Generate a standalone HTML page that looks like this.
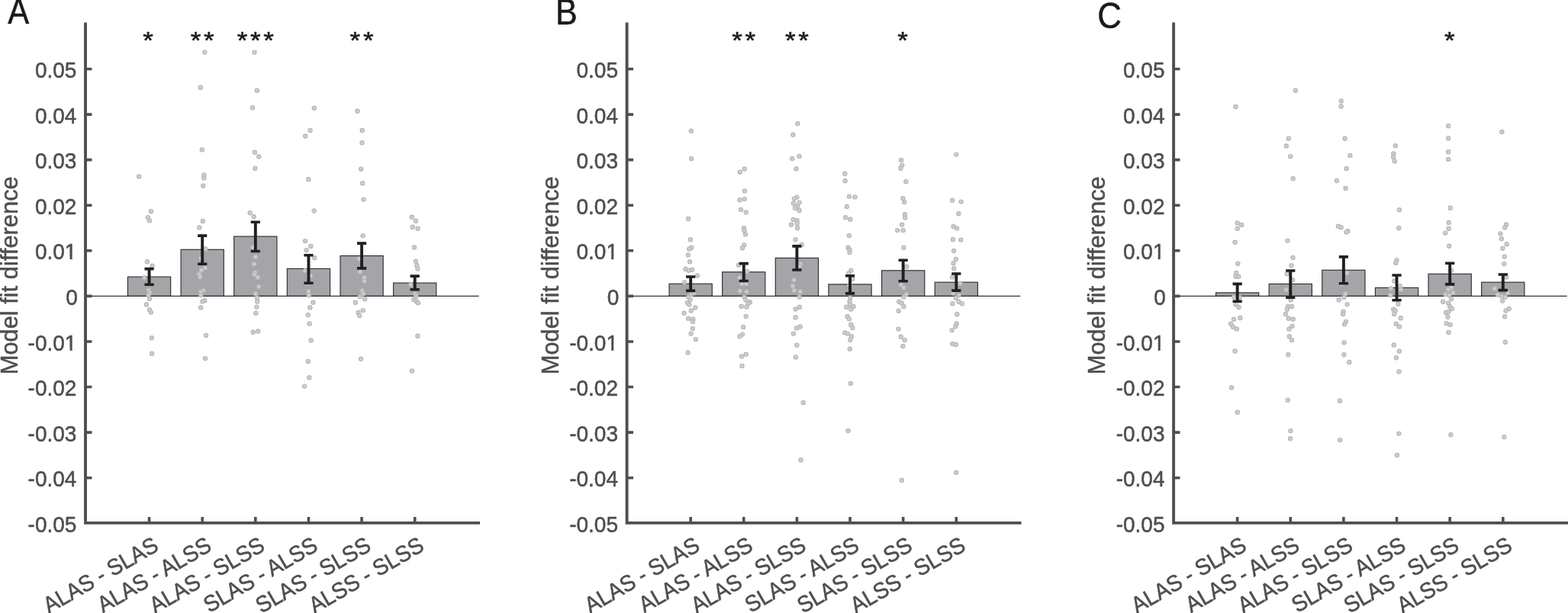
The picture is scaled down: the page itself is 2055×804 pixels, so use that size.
<!DOCTYPE html>
<html lang="en">
<head>
<meta charset="utf-8">
<title>Model fit difference</title><style>
html,body{margin:0;padding:0;background:#fff;}
body{width:2055px;height:804px;overflow:hidden;}
svg{display:block;}
text{font-family:"Liberation Sans","DejaVu Sans",sans-serif;}
.tk{font-size:28px;fill:#4e4e4e;stroke:#4e4e4e;stroke-width:0.5px;}
.yl{font-size:30.85px;fill:#4e4e4e;stroke:#4e4e4e;stroke-width:0.5px;}
.pl{font-size:45px;fill:#1a1a1a;stroke:#1a1a1a;stroke-width:0.5px;}
.st{font-size:35px;fill:#1a1a1a;stroke:#1a1a1a;stroke-width:0.6px;}
.ax{stroke:#4f4f4f;stroke-width:3.9;fill:none;}
.ti{stroke:#4f4f4f;stroke-width:3.6;fill:none;}
.bl{stroke:#333333;stroke-width:1.1;}
.bar{fill:#a5a5a9;stroke:#2e2e30;stroke-width:1.15;}
.eb{stroke:#231f20;stroke-width:3.9;fill:none;}
.ec{stroke:#231f20;stroke-width:3.6;fill:none;}
.d{fill:#cecece;stroke:#b8b8b8;stroke-width:1.2;}
</style>
</head>
<body>
<svg width="2055" height="804" viewBox="0 0 2055 804">
<rect x="0" y="0" width="2055" height="804" fill="#ffffff"/>
<defs><clipPath id="nofoot" clipPathUnits="userSpaceOnUse"><rect x="-200" y="-40" width="400" height="36.6"/><rect x="-200" y="-3.6" width="185.2" height="20"/><rect x="-8.85" y="-3.6" width="3.1" height="3.9"/></clipPath></defs>
<g id="panel-A">
<text class="pl" transform="translate(10.20,31.20) scale(0.930,1.08)">A</text>
<text class="yl" text-anchor="middle" transform="translate(22.9,361.3) rotate(-90)">Model fit difference</text>
<rect class="bar" x="167.45" y="363.10" width="56.20" height="25.30"/>
<rect class="bar" x="237.08" y="327.30" width="56.20" height="61.10"/>
<rect class="bar" x="306.71" y="310.10" width="56.20" height="78.30"/>
<rect class="bar" x="376.34" y="352.40" width="56.20" height="36.00"/>
<rect class="bar" x="445.97" y="335.50" width="56.20" height="52.90"/>
<rect class="bar" x="515.60" y="371.10" width="56.20" height="17.30"/>
<line class="bl" x1="112.0" y1="388.40" x2="627.6" y2="388.40"/>
<g class="d">
<circle cx="268.3" cy="68.6" r="2.6"/><circle cx="333.4" cy="68.6" r="2.6"/><circle cx="262.8" cy="114.8" r="2.6"/><circle cx="336.9" cy="118.8" r="2.6"/><circle cx="331.0" cy="141.2" r="2.6"/><circle cx="411.8" cy="141.7" r="2.6"/><circle cx="468.5" cy="145.7" r="2.6"/><circle cx="406.6" cy="171.0" r="2.6"/><circle cx="400.1" cy="178.5" r="2.6"/><circle cx="474.7" cy="171.0" r="2.6"/><circle cx="474.5" cy="187.2" r="2.6"/><circle cx="264.8" cy="196.4" r="2.6"/><circle cx="333.9" cy="199.7" r="2.6"/><circle cx="339.2" cy="205.4" r="2.6"/><circle cx="334.4" cy="220.8" r="2.6"/><circle cx="473.2" cy="221.8" r="2.6"/><circle cx="182.2" cy="231.5" r="2.6"/><circle cx="267.3" cy="229.5" r="2.6"/><circle cx="267.3" cy="233.5" r="2.6"/><circle cx="197.9" cy="277.3" r="2.6"/><circle cx="193.9" cy="285.2" r="2.6"/><circle cx="195.9" cy="289.2" r="2.6"/><circle cx="192.9" cy="343.2" r="2.6"/><circle cx="199.6" cy="348.7" r="2.6"/><circle cx="189.2" cy="364.3" r="2.6"/><circle cx="194.6" cy="380.5" r="2.6"/><circle cx="196.6" cy="383.7" r="2.6"/><circle cx="194.6" cy="387.2" r="2.6"/><circle cx="195.9" cy="391.7" r="2.6"/><circle cx="191.9" cy="399.4" r="2.6"/><circle cx="195.9" cy="406.1" r="2.6"/><circle cx="197.9" cy="409.6" r="2.6"/><circle cx="266.3" cy="243.7" r="2.6"/><circle cx="265.8" cy="290.0" r="2.6"/><circle cx="261.3" cy="298.4" r="2.6"/><circle cx="269.3" cy="326.5" r="2.6"/><circle cx="263.5" cy="338.7" r="2.6"/><circle cx="268.8" cy="351.4" r="2.6"/><circle cx="263.8" cy="354.4" r="2.6"/><circle cx="260.8" cy="359.6" r="2.6"/><circle cx="262.3" cy="363.1" r="2.6"/><circle cx="266.8" cy="381.2" r="2.6"/><circle cx="263.3" cy="382.7" r="2.6"/><circle cx="263.3" cy="387.2" r="2.6"/><circle cx="268.3" cy="394.2" r="2.6"/><circle cx="265.3" cy="395.4" r="2.6"/><circle cx="263.3" cy="403.4" r="2.6"/><circle cx="327.7" cy="279.3" r="2.6"/><circle cx="332.7" cy="284.2" r="2.6"/><circle cx="331.5" cy="324.5" r="2.6"/><circle cx="334.9" cy="337.0" r="2.6"/><circle cx="332.9" cy="346.2" r="2.6"/><circle cx="334.4" cy="357.4" r="2.6"/><circle cx="333.4" cy="359.9" r="2.6"/><circle cx="337.7" cy="363.8" r="2.6"/><circle cx="339.2" cy="376.0" r="2.6"/><circle cx="334.9" cy="385.2" r="2.6"/><circle cx="336.9" cy="390.4" r="2.6"/><circle cx="337.2" cy="395.4" r="2.6"/><circle cx="336.4" cy="402.6" r="2.6"/><circle cx="335.4" cy="410.8" r="2.6"/><circle cx="404.3" cy="235.2" r="2.6"/><circle cx="411.6" cy="276.5" r="2.6"/><circle cx="400.1" cy="316.1" r="2.6"/><circle cx="407.3" cy="323.0" r="2.6"/><circle cx="401.6" cy="328.3" r="2.6"/><circle cx="412.3" cy="338.2" r="2.6"/><circle cx="399.9" cy="355.1" r="2.6"/><circle cx="406.8" cy="361.8" r="2.6"/><circle cx="404.3" cy="382.2" r="2.6"/><circle cx="404.8" cy="387.2" r="2.6"/><circle cx="410.3" cy="396.7" r="2.6"/><circle cx="406.3" cy="403.4" r="2.6"/><circle cx="403.8" cy="413.1" r="2.6"/><circle cx="405.6" cy="424.5" r="2.6"/><circle cx="475.2" cy="240.4" r="2.6"/><circle cx="476.5" cy="261.6" r="2.6"/><circle cx="475.5" cy="309.1" r="2.6"/><circle cx="470.8" cy="339.5" r="2.6"/><circle cx="472.0" cy="356.4" r="2.6"/><circle cx="477.5" cy="364.3" r="2.6"/><circle cx="477.5" cy="368.8" r="2.6"/><circle cx="474.7" cy="381.2" r="2.6"/><circle cx="476.2" cy="385.5" r="2.6"/><circle cx="471.7" cy="389.2" r="2.6"/><circle cx="478.2" cy="392.2" r="2.6"/><circle cx="465.8" cy="396.7" r="2.6"/><circle cx="475.7" cy="407.1" r="2.6"/><circle cx="469.5" cy="409.9" r="2.6"/><circle cx="471.3" cy="414.1" r="2.6"/><circle cx="539.7" cy="284.7" r="2.6"/><circle cx="544.9" cy="289.7" r="2.6"/><circle cx="540.7" cy="297.7" r="2.6"/><circle cx="547.6" cy="299.7" r="2.6"/><circle cx="542.9" cy="324.5" r="2.6"/><circle cx="544.9" cy="342.7" r="2.6"/><circle cx="546.4" cy="348.2" r="2.6"/><circle cx="547.4" cy="352.6" r="2.6"/><circle cx="538.4" cy="373.5" r="2.6"/><circle cx="544.2" cy="385.5" r="2.6"/><circle cx="545.4" cy="388.7" r="2.6"/><circle cx="542.4" cy="392.9" r="2.6"/><circle cx="545.9" cy="395.4" r="2.6"/><circle cx="547.9" cy="397.2" r="2.6"/><circle cx="198.9" cy="443.2" r="2.6"/><circle cx="199.1" cy="463.8" r="2.6"/><circle cx="270.0" cy="440.0" r="2.6"/><circle cx="269.0" cy="470.1" r="2.6"/><circle cx="331.7" cy="435.7" r="2.6"/><circle cx="338.2" cy="434.5" r="2.6"/><circle cx="407.6" cy="446.4" r="2.6"/><circle cx="403.8" cy="474.0" r="2.6"/><circle cx="405.3" cy="495.2" r="2.6"/><circle cx="399.1" cy="506.6" r="2.6"/><circle cx="473.0" cy="470.8" r="2.6"/><circle cx="547.4" cy="440.7" r="2.6"/><circle cx="539.9" cy="486.5" r="2.6"/>
</g>
<path class="eb" d="M195.55 352.60V373.30"/><path class="ec" d="M189.45 352.60h12.2M189.45 373.30h12.2"/>
<path class="eb" d="M265.18 309.10V346.20"/><path class="ec" d="M259.08 309.10h12.2M259.08 346.20h12.2"/>
<path class="eb" d="M334.81 291.20V329.50"/><path class="ec" d="M328.71 291.20h12.2M328.71 329.50h12.2"/>
<path class="eb" d="M404.44 334.70V371.30"/><path class="ec" d="M398.34 334.70h12.2M398.34 371.30h12.2"/>
<path class="eb" d="M474.07 319.10V351.90"/><path class="ec" d="M467.97 319.10h12.2M467.97 351.90h12.2"/>
<path class="eb" d="M543.70 362.10V379.80"/><path class="ec" d="M537.60 362.10h12.2M537.60 379.80h12.2"/>
<path class="ax" d="M112.00 29.40V685.90H629.00"/>
<path class="ti" d="M112.00 90.50h8.4M112.00 150.08h8.4M112.00 209.66h8.4M112.00 269.24h8.4M112.00 328.82h8.4M112.00 388.40h8.4M112.00 447.98h8.4M112.00 507.56h8.4M112.00 567.14h8.4M112.00 626.72h8.4M195.55 685.90v-8.0M265.18 685.90v-8.0M334.81 685.90v-8.0M404.44 685.90v-8.0M474.07 685.90v-8.0M543.70 685.90v-8.0"/>
<text class="tk" text-anchor="end" transform="translate(100.4,102.0) scale(1,1.07)">0.05</text>
<text class="tk" text-anchor="end" transform="translate(100.4,161.6) scale(1,1.07)">0.04</text>
<text class="tk" text-anchor="end" transform="translate(100.4,221.2) scale(1,1.07)">0.03</text>
<text class="tk" text-anchor="end" transform="translate(100.4,280.7) scale(1,1.07)">0.02</text>
<text class="tk" text-anchor="end" clip-path="url(#nofoot)" transform="translate(100.4,340.3) scale(1,1.07)">0.01</text>
<text class="tk" text-anchor="end" transform="translate(101.8,399.9) scale(1,1.07)">0</text>
<text class="tk" text-anchor="end" clip-path="url(#nofoot)" transform="translate(100.4,459.5) scale(1,1.07)">-0.01</text>
<text class="tk" text-anchor="end" transform="translate(100.4,519.1) scale(1,1.07)">-0.02</text>
<text class="tk" text-anchor="end" transform="translate(100.4,578.6) scale(1,1.07)">-0.03</text>
<text class="tk" text-anchor="end" transform="translate(100.4,638.2) scale(1,1.07)">-0.04</text>
<text class="tk" text-anchor="end" transform="translate(100.4,697.8) scale(1,1.07)">-0.05</text>
<text class="tk" text-anchor="end" transform="translate(209.6,721.0) rotate(-30) scale(1,1.07)">ALAS - SLAS</text>
<text class="tk" text-anchor="end" transform="translate(279.2,721.0) rotate(-30) scale(1,1.07)">ALAS - ALSS</text>
<text class="tk" text-anchor="end" transform="translate(348.8,721.0) rotate(-30) scale(1,1.07)">ALAS - SLSS</text>
<text class="tk" text-anchor="end" transform="translate(418.4,721.0) rotate(-30) scale(1,1.07)">SLAS - ALSS</text>
<text class="tk" text-anchor="end" transform="translate(488.1,721.0) rotate(-30) scale(1,1.07)">SLAS - SLSS</text>
<text class="tk" text-anchor="end" transform="translate(557.7,721.0) rotate(-30) scale(1,1.07)">ALSS - SLSS</text>
<text class="st" text-anchor="middle" transform="translate(0,64.20) scale(1,0.88)" x="194.05" y="0">*</text>
<text class="st" text-anchor="middle" transform="translate(0,64.20) scale(1,0.88)" x="256.53 273.83" y="0">**</text>
<text class="st" text-anchor="middle" transform="translate(0,64.20) scale(1,0.88)" x="317.51 334.81 352.11" y="0">***</text>
<text class="st" text-anchor="middle" transform="translate(0,64.20) scale(1,0.88)" x="465.42 482.72" y="0">**</text>
</g>
<g id="panel-B">
<text class="pl" transform="translate(727.90,31.70) scale(0.955,1.08)">B</text>
<text class="yl" text-anchor="middle" transform="translate(731.6,361.3) rotate(-90)">Model fit difference</text>
<rect class="bar" x="877.05" y="372.20" width="56.20" height="16.20"/>
<rect class="bar" x="946.68" y="356.80" width="56.20" height="31.60"/>
<rect class="bar" x="1016.31" y="338.40" width="56.20" height="50.00"/>
<rect class="bar" x="1085.94" y="372.90" width="56.20" height="15.50"/>
<rect class="bar" x="1155.57" y="354.80" width="56.20" height="33.60"/>
<rect class="bar" x="1225.20" y="370.20" width="56.20" height="18.20"/>
<line class="bl" x1="821.6" y1="388.40" x2="1337.2" y2="388.40"/>
<g class="d">
<circle cx="905.8" cy="171.8" r="2.6"/><circle cx="906.1" cy="208.1" r="2.6"/><circle cx="902.1" cy="287.0" r="2.6"/><circle cx="904.8" cy="314.3" r="2.6"/><circle cx="906.3" cy="324.8" r="2.6"/><circle cx="903.3" cy="326.5" r="2.6"/><circle cx="975.7" cy="221.5" r="2.6"/><circle cx="969.8" cy="225.8" r="2.6"/><circle cx="976.0" cy="250.4" r="2.6"/><circle cx="975.7" cy="261.1" r="2.6"/><circle cx="969.5" cy="262.3" r="2.6"/><circle cx="971.0" cy="275.0" r="2.6"/><circle cx="977.7" cy="278.5" r="2.6"/><circle cx="975.0" cy="299.2" r="2.6"/><circle cx="975.5" cy="302.4" r="2.6"/><circle cx="977.0" cy="307.4" r="2.6"/><circle cx="975.2" cy="321.5" r="2.6"/><circle cx="973.0" cy="325.3" r="2.6"/><circle cx="1045.4" cy="162.1" r="2.6"/><circle cx="1039.4" cy="176.8" r="2.6"/><circle cx="1047.4" cy="204.9" r="2.6"/><circle cx="1038.2" cy="207.9" r="2.6"/><circle cx="1043.6" cy="221.5" r="2.6"/><circle cx="1044.4" cy="258.6" r="2.6"/><circle cx="1040.9" cy="260.6" r="2.6"/><circle cx="1047.6" cy="265.6" r="2.6"/><circle cx="1039.9" cy="266.8" r="2.6"/><circle cx="1045.1" cy="270.5" r="2.6"/><circle cx="1042.1" cy="273.0" r="2.6"/><circle cx="1047.6" cy="276.0" r="2.6"/><circle cx="1039.7" cy="288.0" r="2.6"/><circle cx="1044.6" cy="289.2" r="2.6"/><circle cx="1044.6" cy="293.4" r="2.6"/><circle cx="1036.9" cy="294.7" r="2.6"/><circle cx="1045.1" cy="299.2" r="2.6"/><circle cx="1042.6" cy="314.1" r="2.6"/><circle cx="1050.6" cy="321.0" r="2.6"/><circle cx="1107.3" cy="227.8" r="2.6"/><circle cx="1107.6" cy="237.2" r="2.6"/><circle cx="1113.0" cy="257.6" r="2.6"/><circle cx="1120.5" cy="258.4" r="2.6"/><circle cx="1109.8" cy="271.0" r="2.6"/><circle cx="1108.1" cy="285.2" r="2.6"/><circle cx="1114.3" cy="287.7" r="2.6"/><circle cx="1112.8" cy="309.1" r="2.6"/><circle cx="1111.5" cy="324.8" r="2.6"/><circle cx="1113.5" cy="327.8" r="2.6"/><circle cx="1181.0" cy="209.9" r="2.6"/><circle cx="1182.2" cy="216.6" r="2.6"/><circle cx="1180.4" cy="220.8" r="2.6"/><circle cx="1187.4" cy="238.2" r="2.6"/><circle cx="1183.4" cy="260.1" r="2.6"/><circle cx="1185.2" cy="265.1" r="2.6"/><circle cx="1185.9" cy="281.2" r="2.6"/><circle cx="1186.2" cy="285.5" r="2.6"/><circle cx="1182.2" cy="294.7" r="2.6"/><circle cx="1176.2" cy="302.1" r="2.6"/><circle cx="1183.7" cy="302.1" r="2.6"/><circle cx="1184.4" cy="324.8" r="2.6"/><circle cx="1253.3" cy="202.6" r="2.6"/><circle cx="1248.1" cy="262.8" r="2.6"/><circle cx="1259.6" cy="264.6" r="2.6"/><circle cx="1256.3" cy="280.2" r="2.6"/><circle cx="1249.6" cy="296.9" r="2.6"/><circle cx="1254.1" cy="299.4" r="2.6"/><circle cx="1248.9" cy="314.3" r="2.6"/><circle cx="1259.3" cy="314.6" r="2.6"/><circle cx="1250.1" cy="329.0" r="2.6"/><circle cx="901.8" cy="334.4" r="2.6"/><circle cx="904.1" cy="343.3" r="2.6"/><circle cx="898.4" cy="352.8" r="2.6"/><circle cx="907.1" cy="353.8" r="2.6"/><circle cx="902.6" cy="354.8" r="2.6"/><circle cx="914.0" cy="361.5" r="2.6"/><circle cx="897.1" cy="370.4" r="2.6"/><circle cx="905.8" cy="385.9" r="2.6"/><circle cx="909.5" cy="384.6" r="2.6"/><circle cx="902.1" cy="389.6" r="2.6"/><circle cx="904.6" cy="393.3" r="2.6"/><circle cx="900.8" cy="397.1" r="2.6"/><circle cx="903.3" cy="399.6" r="2.6"/><circle cx="911.3" cy="403.5" r="2.6"/><circle cx="905.8" cy="407.5" r="2.6"/><circle cx="896.6" cy="410.7" r="2.6"/><circle cx="902.1" cy="417.7" r="2.6"/><circle cx="908.3" cy="418.7" r="2.6"/><circle cx="907.8" cy="421.9" r="2.6"/><circle cx="907.8" cy="430.9" r="2.6"/><circle cx="905.6" cy="437.6" r="2.6"/><circle cx="911.8" cy="445.1" r="2.6"/><circle cx="901.6" cy="462.5" r="2.6"/><circle cx="968.0" cy="347.8" r="2.6"/><circle cx="979.2" cy="356.0" r="2.6"/><circle cx="969.3" cy="364.2" r="2.6"/><circle cx="978.0" cy="372.2" r="2.6"/><circle cx="972.2" cy="372.2" r="2.6"/><circle cx="969.8" cy="381.6" r="2.6"/><circle cx="978.5" cy="382.6" r="2.6"/><circle cx="975.5" cy="389.6" r="2.6"/><circle cx="977.2" cy="393.3" r="2.6"/><circle cx="982.9" cy="396.3" r="2.6"/><circle cx="980.4" cy="398.3" r="2.6"/><circle cx="971.7" cy="401.8" r="2.6"/><circle cx="978.5" cy="402.5" r="2.6"/><circle cx="977.7" cy="415.0" r="2.6"/><circle cx="974.2" cy="428.9" r="2.6"/><circle cx="973.0" cy="438.6" r="2.6"/><circle cx="969.3" cy="441.3" r="2.6"/><circle cx="977.7" cy="464.7" r="2.6"/><circle cx="972.0" cy="467.5" r="2.6"/><circle cx="972.5" cy="479.9" r="2.6"/><circle cx="1048.9" cy="346.1" r="2.6"/><circle cx="1047.6" cy="349.3" r="2.6"/><circle cx="1040.6" cy="367.2" r="2.6"/><circle cx="1038.9" cy="375.2" r="2.6"/><circle cx="1040.9" cy="380.9" r="2.6"/><circle cx="1048.9" cy="382.6" r="2.6"/><circle cx="1047.6" cy="389.6" r="2.6"/><circle cx="1047.9" cy="402.8" r="2.6"/><circle cx="1042.6" cy="405.5" r="2.6"/><circle cx="1042.6" cy="416.2" r="2.6"/><circle cx="1048.6" cy="428.4" r="2.6"/><circle cx="1043.9" cy="430.4" r="2.6"/><circle cx="1039.9" cy="437.6" r="2.6"/><circle cx="1044.4" cy="452.8" r="2.6"/><circle cx="1042.9" cy="468.5" r="2.6"/><circle cx="1113.5" cy="331.1" r="2.6"/><circle cx="1115.3" cy="354.8" r="2.6"/><circle cx="1112.3" cy="358.5" r="2.6"/><circle cx="1117.3" cy="366.0" r="2.6"/><circle cx="1113.5" cy="373.4" r="2.6"/><circle cx="1114.3" cy="390.8" r="2.6"/><circle cx="1113.5" cy="395.8" r="2.6"/><circle cx="1114.3" cy="399.6" r="2.6"/><circle cx="1109.3" cy="402.8" r="2.6"/><circle cx="1118.5" cy="402.0" r="2.6"/><circle cx="1115.3" cy="405.5" r="2.6"/><circle cx="1110.5" cy="415.0" r="2.6"/><circle cx="1112.8" cy="418.2" r="2.6"/><circle cx="1115.3" cy="425.7" r="2.6"/><circle cx="1117.3" cy="429.9" r="2.6"/><circle cx="1107.3" cy="436.4" r="2.6"/><circle cx="1111.0" cy="437.6" r="2.6"/><circle cx="1116.0" cy="441.3" r="2.6"/><circle cx="1114.3" cy="445.8" r="2.6"/><circle cx="1113.8" cy="457.8" r="2.6"/><circle cx="1114.8" cy="502.9" r="2.6"/><circle cx="1188.2" cy="349.8" r="2.6"/><circle cx="1180.7" cy="373.4" r="2.6"/><circle cx="1184.4" cy="377.2" r="2.6"/><circle cx="1187.7" cy="385.9" r="2.6"/><circle cx="1184.4" cy="389.6" r="2.6"/><circle cx="1178.2" cy="395.8" r="2.6"/><circle cx="1181.9" cy="397.6" r="2.6"/><circle cx="1184.4" cy="402.0" r="2.6"/><circle cx="1177.7" cy="407.8" r="2.6"/><circle cx="1177.5" cy="431.6" r="2.6"/><circle cx="1180.7" cy="441.8" r="2.6"/><circle cx="1185.7" cy="446.1" r="2.6"/><circle cx="1183.4" cy="454.0" r="2.6"/><circle cx="1252.8" cy="339.9" r="2.6"/><circle cx="1249.6" cy="345.3" r="2.6"/><circle cx="1250.3" cy="352.3" r="2.6"/><circle cx="1247.9" cy="363.5" r="2.6"/><circle cx="1258.3" cy="371.7" r="2.6"/><circle cx="1249.1" cy="384.6" r="2.6"/><circle cx="1256.6" cy="387.1" r="2.6"/><circle cx="1252.8" cy="390.8" r="2.6"/><circle cx="1248.4" cy="398.3" r="2.6"/><circle cx="1256.6" cy="395.8" r="2.6"/><circle cx="1260.8" cy="398.3" r="2.6"/><circle cx="1254.3" cy="412.2" r="2.6"/><circle cx="1253.6" cy="424.4" r="2.6"/><circle cx="1252.3" cy="428.2" r="2.6"/><circle cx="1247.6" cy="433.1" r="2.6"/><circle cx="1248.4" cy="451.0" r="2.6"/><circle cx="1252.8" cy="452.0" r="2.6"/><circle cx="1052.8" cy="528.1" r="2.6"/><circle cx="1111.5" cy="564.9" r="2.6"/><circle cx="1049.6" cy="603.2" r="2.6"/><circle cx="1181.9" cy="630.0" r="2.6"/><circle cx="1253.3" cy="619.8" r="2.6"/>
</g>
<path class="eb" d="M905.15 363.00V381.40"/><path class="ec" d="M899.05 363.00h12.2M899.05 381.40h12.2"/>
<path class="eb" d="M974.78 345.60V368.50"/><path class="ec" d="M968.68 345.60h12.2M968.68 368.50h12.2"/>
<path class="eb" d="M1044.41 322.90V354.00"/><path class="ec" d="M1038.31 322.90h12.2M1038.31 354.00h12.2"/>
<path class="eb" d="M1114.04 361.70V384.90"/><path class="ec" d="M1107.94 361.70h12.2M1107.94 384.90h12.2"/>
<path class="eb" d="M1183.67 341.30V368.70"/><path class="ec" d="M1177.57 341.30h12.2M1177.57 368.70h12.2"/>
<path class="eb" d="M1253.30 359.00V381.10"/><path class="ec" d="M1247.20 359.00h12.2M1247.20 381.10h12.2"/>
<path class="ax" d="M821.60 29.40V685.90H1338.60"/>
<path class="ti" d="M821.60 90.50h8.4M821.60 150.08h8.4M821.60 209.66h8.4M821.60 269.24h8.4M821.60 328.82h8.4M821.60 388.40h8.4M821.60 447.98h8.4M821.60 507.56h8.4M821.60 567.14h8.4M821.60 626.72h8.4M905.15 685.90v-8.0M974.78 685.90v-8.0M1044.41 685.90v-8.0M1114.04 685.90v-8.0M1183.67 685.90v-8.0M1253.30 685.90v-8.0"/>
<text class="tk" text-anchor="end" transform="translate(810.0,102.0) scale(1,1.07)">0.05</text>
<text class="tk" text-anchor="end" transform="translate(810.0,161.6) scale(1,1.07)">0.04</text>
<text class="tk" text-anchor="end" transform="translate(810.0,221.2) scale(1,1.07)">0.03</text>
<text class="tk" text-anchor="end" transform="translate(810.0,280.7) scale(1,1.07)">0.02</text>
<text class="tk" text-anchor="end" clip-path="url(#nofoot)" transform="translate(810.0,340.3) scale(1,1.07)">0.01</text>
<text class="tk" text-anchor="end" transform="translate(811.4,399.9) scale(1,1.07)">0</text>
<text class="tk" text-anchor="end" clip-path="url(#nofoot)" transform="translate(810.0,459.5) scale(1,1.07)">-0.01</text>
<text class="tk" text-anchor="end" transform="translate(810.0,519.1) scale(1,1.07)">-0.02</text>
<text class="tk" text-anchor="end" transform="translate(810.0,578.6) scale(1,1.07)">-0.03</text>
<text class="tk" text-anchor="end" transform="translate(810.0,638.2) scale(1,1.07)">-0.04</text>
<text class="tk" text-anchor="end" transform="translate(810.0,697.8) scale(1,1.07)">-0.05</text>
<text class="tk" text-anchor="end" transform="translate(919.1,721.0) rotate(-30) scale(1,1.07)">ALAS - SLAS</text>
<text class="tk" text-anchor="end" transform="translate(988.8,721.0) rotate(-30) scale(1,1.07)">ALAS - ALSS</text>
<text class="tk" text-anchor="end" transform="translate(1058.4,721.0) rotate(-30) scale(1,1.07)">ALAS - SLSS</text>
<text class="tk" text-anchor="end" transform="translate(1128.0,721.0) rotate(-30) scale(1,1.07)">SLAS - ALSS</text>
<text class="tk" text-anchor="end" transform="translate(1197.7,721.0) rotate(-30) scale(1,1.07)">SLAS - SLSS</text>
<text class="tk" text-anchor="end" transform="translate(1267.3,721.0) rotate(-30) scale(1,1.07)">ALSS - SLSS</text>
<text class="st" text-anchor="middle" transform="translate(0,64.20) scale(1,0.88)" x="966.13 983.43" y="0">**</text>
<text class="st" text-anchor="middle" transform="translate(0,64.20) scale(1,0.88)" x="1035.76 1053.06" y="0">**</text>
<text class="st" text-anchor="middle" transform="translate(0,64.20) scale(1,0.88)" x="1182.97" y="0">*</text>
</g>
<g id="panel-C">
<text class="pl" transform="translate(1438.30,36.50) scale(0.975,1.08)">C</text>
<text class="yl" text-anchor="middle" transform="translate(1447.9,361.3) rotate(-90)">Model fit difference</text>
<rect class="bar" x="1593.55" y="383.90" width="56.20" height="4.50"/>
<rect class="bar" x="1663.18" y="372.40" width="56.20" height="16.00"/>
<rect class="bar" x="1732.81" y="354.30" width="56.20" height="34.10"/>
<rect class="bar" x="1802.44" y="377.40" width="56.20" height="11.00"/>
<rect class="bar" x="1872.07" y="359.30" width="56.20" height="29.10"/>
<rect class="bar" x="1941.70" y="370.20" width="56.20" height="18.20"/>
<line class="bl" x1="1538.1" y1="388.40" x2="2053.7" y2="388.40"/>
<g class="d">
<circle cx="1619.4" cy="140.0" r="2.6"/><circle cx="1621.6" cy="292.4" r="2.6"/><circle cx="1627.3" cy="294.9" r="2.6"/><circle cx="1621.8" cy="299.7" r="2.6"/><circle cx="1618.6" cy="317.8" r="2.6"/><circle cx="1688.8" cy="181.7" r="2.6"/><circle cx="1685.8" cy="191.4" r="2.6"/><circle cx="1691.2" cy="205.1" r="2.6"/><circle cx="1694.7" cy="234.2" r="2.6"/><circle cx="1687.5" cy="315.6" r="2.6"/><circle cx="1697.8" cy="118.7" r="2.6"/><circle cx="1757.7" cy="132.5" r="2.6"/><circle cx="1757.7" cy="139.5" r="2.6"/><circle cx="1762.6" cy="181.7" r="2.6"/><circle cx="1769.4" cy="203.9" r="2.6"/><circle cx="1764.6" cy="221.0" r="2.6"/><circle cx="1751.9" cy="237.0" r="2.6"/><circle cx="1763.6" cy="246.9" r="2.6"/><circle cx="1753.9" cy="296.7" r="2.6"/><circle cx="1757.7" cy="298.2" r="2.6"/><circle cx="1766.4" cy="302.9" r="2.6"/><circle cx="1764.4" cy="304.6" r="2.6"/><circle cx="1828.8" cy="191.2" r="2.6"/><circle cx="1826.3" cy="201.4" r="2.6"/><circle cx="1826.1" cy="205.9" r="2.6"/><circle cx="1827.8" cy="211.6" r="2.6"/><circle cx="1834.0" cy="275.3" r="2.6"/><circle cx="1833.3" cy="299.2" r="2.6"/><circle cx="1898.2" cy="165.3" r="2.6"/><circle cx="1898.2" cy="181.5" r="2.6"/><circle cx="1898.2" cy="199.2" r="2.6"/><circle cx="1898.2" cy="208.9" r="2.6"/><circle cx="1900.7" cy="272.8" r="2.6"/><circle cx="1898.7" cy="291.9" r="2.6"/><circle cx="1898.7" cy="299.7" r="2.6"/><circle cx="1894.2" cy="305.6" r="2.6"/><circle cx="1899.2" cy="322.8" r="2.6"/><circle cx="1968.4" cy="173.0" r="2.6"/><circle cx="1974.1" cy="294.4" r="2.6"/><circle cx="1972.3" cy="298.4" r="2.6"/><circle cx="1966.4" cy="306.4" r="2.6"/><circle cx="1967.9" cy="313.3" r="2.6"/><circle cx="1974.6" cy="320.3" r="2.6"/><circle cx="1969.4" cy="325.8" r="2.6"/><circle cx="1622.3" cy="345.8" r="2.6"/><circle cx="1620.3" cy="358.0" r="2.6"/><circle cx="1619.6" cy="362.7" r="2.6"/><circle cx="1623.3" cy="362.7" r="2.6"/><circle cx="1617.1" cy="389.6" r="2.6"/><circle cx="1624.6" cy="390.1" r="2.6"/><circle cx="1619.6" cy="399.6" r="2.6"/><circle cx="1623.6" cy="403.0" r="2.6"/><circle cx="1625.3" cy="417.0" r="2.6"/><circle cx="1617.1" cy="418.7" r="2.6"/><circle cx="1613.1" cy="424.7" r="2.6"/><circle cx="1615.9" cy="428.7" r="2.6"/><circle cx="1620.8" cy="431.4" r="2.6"/><circle cx="1618.6" cy="460.5" r="2.6"/><circle cx="1614.1" cy="508.4" r="2.6"/><circle cx="1621.8" cy="540.7" r="2.6"/><circle cx="1694.5" cy="337.9" r="2.6"/><circle cx="1692.5" cy="348.3" r="2.6"/><circle cx="1686.8" cy="359.3" r="2.6"/><circle cx="1694.2" cy="367.2" r="2.6"/><circle cx="1685.5" cy="379.9" r="2.6"/><circle cx="1691.7" cy="393.3" r="2.6"/><circle cx="1688.0" cy="402.0" r="2.6"/><circle cx="1693.0" cy="402.0" r="2.6"/><circle cx="1686.8" cy="405.8" r="2.6"/><circle cx="1685.0" cy="412.0" r="2.6"/><circle cx="1688.8" cy="417.7" r="2.6"/><circle cx="1694.7" cy="418.7" r="2.6"/><circle cx="1693.5" cy="427.7" r="2.6"/><circle cx="1689.5" cy="431.4" r="2.6"/><circle cx="1689.8" cy="441.3" r="2.6"/><circle cx="1693.0" cy="446.1" r="2.6"/><circle cx="1688.3" cy="465.2" r="2.6"/><circle cx="1687.8" cy="524.8" r="2.6"/><circle cx="1691.5" cy="565.1" r="2.6"/><circle cx="1691.0" cy="575.3" r="2.6"/><circle cx="1765.4" cy="358.0" r="2.6"/><circle cx="1758.9" cy="372.2" r="2.6"/><circle cx="1763.1" cy="385.4" r="2.6"/><circle cx="1761.4" cy="390.1" r="2.6"/><circle cx="1754.7" cy="393.3" r="2.6"/><circle cx="1765.6" cy="399.1" r="2.6"/><circle cx="1760.6" cy="408.8" r="2.6"/><circle cx="1760.1" cy="412.0" r="2.6"/><circle cx="1763.9" cy="421.9" r="2.6"/><circle cx="1762.1" cy="425.2" r="2.6"/><circle cx="1761.6" cy="449.3" r="2.6"/><circle cx="1761.4" cy="465.2" r="2.6"/><circle cx="1768.4" cy="474.9" r="2.6"/><circle cx="1755.9" cy="525.8" r="2.6"/><circle cx="1756.2" cy="577.1" r="2.6"/><circle cx="1830.5" cy="341.1" r="2.6"/><circle cx="1829.3" cy="344.8" r="2.6"/><circle cx="1827.3" cy="368.5" r="2.6"/><circle cx="1834.8" cy="375.2" r="2.6"/><circle cx="1822.8" cy="378.4" r="2.6"/><circle cx="1836.0" cy="379.7" r="2.6"/><circle cx="1822.3" cy="387.1" r="2.6"/><circle cx="1832.3" cy="398.8" r="2.6"/><circle cx="1826.1" cy="405.8" r="2.6"/><circle cx="1828.6" cy="407.5" r="2.6"/><circle cx="1827.3" cy="412.0" r="2.6"/><circle cx="1835.8" cy="417.2" r="2.6"/><circle cx="1829.8" cy="424.7" r="2.6"/><circle cx="1834.0" cy="428.4" r="2.6"/><circle cx="1826.8" cy="452.5" r="2.6"/><circle cx="1833.8" cy="460.7" r="2.6"/><circle cx="1829.8" cy="469.2" r="2.6"/><circle cx="1833.5" cy="487.5" r="2.6"/><circle cx="1833.3" cy="568.6" r="2.6"/><circle cx="1831.0" cy="597.0" r="2.6"/><circle cx="1901.9" cy="354.8" r="2.6"/><circle cx="1898.2" cy="379.7" r="2.6"/><circle cx="1901.9" cy="377.2" r="2.6"/><circle cx="1904.4" cy="383.9" r="2.6"/><circle cx="1894.5" cy="385.9" r="2.6"/><circle cx="1899.5" cy="387.1" r="2.6"/><circle cx="1901.9" cy="392.1" r="2.6"/><circle cx="1891.2" cy="395.8" r="2.6"/><circle cx="1898.2" cy="397.6" r="2.6"/><circle cx="1900.2" cy="402.0" r="2.6"/><circle cx="1902.7" cy="405.0" r="2.6"/><circle cx="1895.0" cy="410.0" r="2.6"/><circle cx="1898.2" cy="409.0" r="2.6"/><circle cx="1897.5" cy="415.7" r="2.6"/><circle cx="1895.7" cy="424.2" r="2.6"/><circle cx="1900.7" cy="425.9" r="2.6"/><circle cx="1898.5" cy="435.9" r="2.6"/><circle cx="1901.4" cy="570.3" r="2.6"/><circle cx="1971.8" cy="336.6" r="2.6"/><circle cx="1971.3" cy="346.1" r="2.6"/><circle cx="1974.1" cy="363.5" r="2.6"/><circle cx="1958.7" cy="378.4" r="2.6"/><circle cx="1976.1" cy="384.1" r="2.6"/><circle cx="1962.9" cy="386.6" r="2.6"/><circle cx="1967.9" cy="388.4" r="2.6"/><circle cx="1972.8" cy="389.6" r="2.6"/><circle cx="1969.1" cy="394.6" r="2.6"/><circle cx="1977.8" cy="405.0" r="2.6"/><circle cx="1973.6" cy="407.5" r="2.6"/><circle cx="1972.1" cy="415.2" r="2.6"/><circle cx="1972.8" cy="448.8" r="2.6"/><circle cx="1971.3" cy="573.1" r="2.6"/>
</g>
<path class="eb" d="M1621.65 372.40V395.30"/><path class="ec" d="M1615.55 372.40h12.2M1615.55 395.30h12.2"/>
<path class="eb" d="M1691.28 355.00V390.30"/><path class="ec" d="M1685.18 355.00h12.2M1685.18 390.30h12.2"/>
<path class="eb" d="M1760.91 336.90V371.70"/><path class="ec" d="M1754.81 336.90h12.2M1754.81 371.70h12.2"/>
<path class="eb" d="M1830.54 361.00V393.80"/><path class="ec" d="M1824.44 361.00h12.2M1824.44 393.80h12.2"/>
<path class="eb" d="M1900.17 345.30V372.90"/><path class="ec" d="M1894.07 345.30h12.2M1894.07 372.90h12.2"/>
<path class="eb" d="M1969.80 360.00V380.60"/><path class="ec" d="M1963.70 360.00h12.2M1963.70 380.60h12.2"/>
<path class="ax" d="M1538.10 29.40V685.90H2055.10"/>
<path class="ti" d="M1538.10 90.50h8.4M1538.10 150.08h8.4M1538.10 209.66h8.4M1538.10 269.24h8.4M1538.10 328.82h8.4M1538.10 388.40h8.4M1538.10 447.98h8.4M1538.10 507.56h8.4M1538.10 567.14h8.4M1538.10 626.72h8.4M1621.65 685.90v-8.0M1691.28 685.90v-8.0M1760.91 685.90v-8.0M1830.54 685.90v-8.0M1900.17 685.90v-8.0M1969.80 685.90v-8.0"/>
<text class="tk" text-anchor="end" transform="translate(1526.5,102.0) scale(1,1.07)">0.05</text>
<text class="tk" text-anchor="end" transform="translate(1526.5,161.6) scale(1,1.07)">0.04</text>
<text class="tk" text-anchor="end" transform="translate(1526.5,221.2) scale(1,1.07)">0.03</text>
<text class="tk" text-anchor="end" transform="translate(1526.5,280.7) scale(1,1.07)">0.02</text>
<text class="tk" text-anchor="end" clip-path="url(#nofoot)" transform="translate(1526.5,340.3) scale(1,1.07)">0.01</text>
<text class="tk" text-anchor="end" transform="translate(1527.9,399.9) scale(1,1.07)">0</text>
<text class="tk" text-anchor="end" clip-path="url(#nofoot)" transform="translate(1526.5,459.5) scale(1,1.07)">-0.01</text>
<text class="tk" text-anchor="end" transform="translate(1526.5,519.1) scale(1,1.07)">-0.02</text>
<text class="tk" text-anchor="end" transform="translate(1526.5,578.6) scale(1,1.07)">-0.03</text>
<text class="tk" text-anchor="end" transform="translate(1526.5,638.2) scale(1,1.07)">-0.04</text>
<text class="tk" text-anchor="end" transform="translate(1526.5,697.8) scale(1,1.07)">-0.05</text>
<text class="tk" text-anchor="end" transform="translate(1635.6,721.0) rotate(-30) scale(1,1.07)">ALAS - SLAS</text>
<text class="tk" text-anchor="end" transform="translate(1705.3,721.0) rotate(-30) scale(1,1.07)">ALAS - ALSS</text>
<text class="tk" text-anchor="end" transform="translate(1774.9,721.0) rotate(-30) scale(1,1.07)">ALAS - SLSS</text>
<text class="tk" text-anchor="end" transform="translate(1844.5,721.0) rotate(-30) scale(1,1.07)">SLAS - ALSS</text>
<text class="tk" text-anchor="end" transform="translate(1914.2,721.0) rotate(-30) scale(1,1.07)">SLAS - SLSS</text>
<text class="tk" text-anchor="end" transform="translate(1983.8,721.0) rotate(-30) scale(1,1.07)">ALSS - SLSS</text>
<text class="st" text-anchor="middle" transform="translate(0,64.20) scale(1,0.88)" x="1899.87" y="0">*</text>
</g>
</svg>
</body>
</html>
